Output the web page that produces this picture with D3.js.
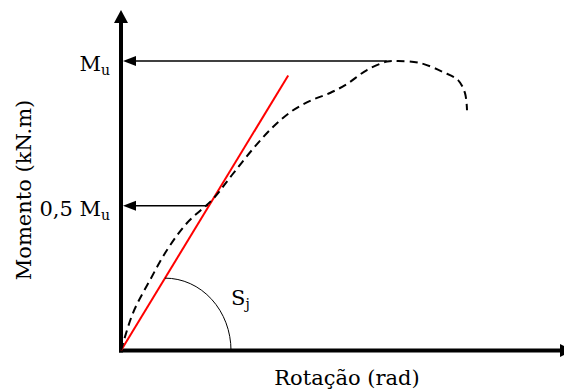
<!DOCTYPE html>
<html>
<head>
<meta charset="utf-8">
<script src="https://cdn.jsdelivr.net/npm/d3@7"></script>
<style>
  html, body { margin: 0; padding: 0; background: #fff; }
  svg { display: block; }
  text { font-family: "DejaVu Serif", "Liberation Serif", serif; fill: #000; }
</style>
</head>
<body>
<svg id="chart" width="564" height="392"></svg>
<script>
// Moment–rotation curve of the joint (rotation in arbitrary units, moment in % of Mu)
const rotation = [0, 1.36, 3.30, 5.23, 7.50, 10.45, 12.61, 14.89, 17.16, 19.43, 21.70, 23.75, 25.68, 27.95, 30.23, 31.5, 33.98, 36.59, 38.30, 39.09, 39.32];
const moment   = [0, 12.95, 24.35, 34.72, 44.04, 52.33, 60.62, 69.26, 76.86, 82.73, 86.53, 88.95, 92.06, 96.89, 99.8, 100, 99.3, 96.2, 93.4, 88.9, 83.0];

// Reference moments marked on the vertical axis
const refLabels  = ["M", "0,5 M"];
const refMoments = [100, 50];
const refRotations = [30.2, 10];     // where each reference arrow leaves the curve

// Initial stiffness line Sj
const sjStiffness = 5;               // moment per unit rotation
const sjRotationEnd = 19;
const sjArcRotations = [5, 12.5];    // arc from the stiffness line down to the rotation axis

const svg = d3.select("#chart");
const fontSize = 21, subSize = 14;

const x = d3.scaleLinear().domain([0, 50]).range([121, 561]);
const y = d3.scaleLinear().domain([0, 100]).range([350.5, 61]);

// Axes with arrowheads
const axisW = 4;
svg.append("line")
  .attr("x1", x(0)).attr("y1", y(0) + axisW / 2)
  .attr("x2", x(0)).attr("y2", y(114))
  .attr("stroke", "#000").attr("stroke-width", axisW);
svg.append("path")
  .attr("d", `M${x(0)},${y(117.6)} L${x(0) - 7},${y(113.1)} L${x(0) + 7},${y(113.1)} Z`)
  .attr("fill", "#000");
svg.append("line")
  .attr("x1", x(0) - axisW / 2).attr("y1", y(0))
  .attr("x2", 562).attr("y2", y(0))
  .attr("stroke", "#000").attr("stroke-width", axisW);
svg.append("path")
  .attr("d", `M573,${y(0)} L560,${y(0) - 6.5} L560,${y(0) + 6.5} Z`)
  .attr("fill", "#000");

// Reference arrows (Mu and 0,5 Mu)
refMoments.forEach((m, i) => {
  const yy = y(m);
  const tip = x(0) + axisW / 2;
  svg.append("line")
    .attr("x1", x(refRotations[i])).attr("y1", yy)
    .attr("x2", tip + 10).attr("y2", yy)
    .attr("stroke", "#000").attr("stroke-width", 1.3);
  svg.append("path")
    .attr("d", `M${tip},${yy} L${tip + 13},${yy - 5} L${tip + 13},${yy + 5} Z`)
    .attr("fill", "#000");
  const t = svg.append("text")
    .attr("x", 110).attr("y", yy + 10)
    .attr("text-anchor", "end")
    .attr("font-size", fontSize);
  t.append("tspan").text(refLabels[i]);
  t.append("tspan").attr("font-size", subSize).attr("dy", 4).text("u");
});

// Initial stiffness line
svg.append("line")
  .attr("x1", x(0)).attr("y1", y(0))
  .attr("x2", x(sjRotationEnd)).attr("y2", y(sjStiffness * sjRotationEnd))
  .attr("stroke", "#ff0000").attr("stroke-width", 2);

// Sj arc
const arcStart = [x(sjArcRotations[0]), y(sjStiffness * sjArcRotations[0])];
const arcEnd = [x(sjArcRotations[1]), y(0)];
const rx = arcEnd[0] - arcStart[0];
const ry = arcEnd[1] - arcStart[1];
svg.append("path")
  .attr("d", `M${arcStart[0]},${arcStart[1]} A${rx},${ry} 0 0 1 ${arcEnd[0]},${arcEnd[1]}`)
  .attr("fill", "none").attr("stroke", "#000").attr("stroke-width", 1);
const sj = svg.append("text")
  .attr("x", 231).attr("y", 305)
  .attr("font-size", fontSize);
sj.append("tspan").text("S");
sj.append("tspan").attr("font-size", subSize).attr("dy", 4).text("j");

// Moment–rotation curve
const line = d3.line()
  .x((d, i) => x(rotation[i]))
  .y((d, i) => y(moment[i]))
  .curve(d3.curveCatmullRom.alpha(0.5));
svg.append("path")
  .attr("d", line(rotation))
  .attr("fill", "none").attr("stroke", "#000")
  .attr("stroke-width", 2).attr("stroke-dasharray", "8,5");

// Axis titles
svg.append("text")
  .attr("x", 347).attr("y", 385)
  .attr("text-anchor", "middle").attr("font-size", fontSize)
  .text("Rotação (rad)");
svg.append("text")
  .attr("transform", "translate(31,190) rotate(-90)")
  .attr("text-anchor", "middle").attr("font-size", fontSize)
  .text("Momento (kN.m)");
</script>
</body>
</html>
